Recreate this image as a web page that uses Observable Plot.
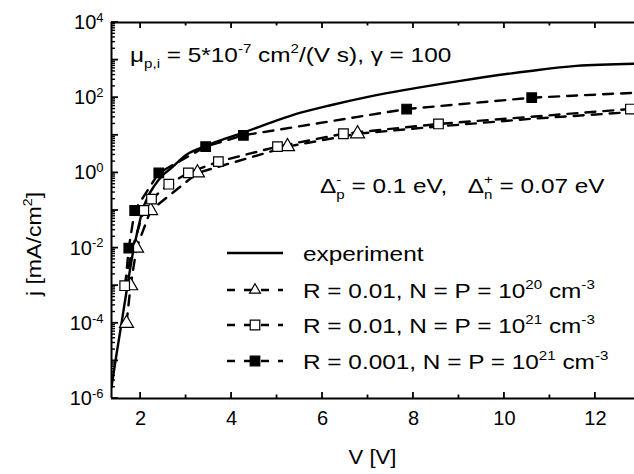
<!DOCTYPE html>
<html><head><meta charset="utf-8">
<script src="https://cdn.jsdelivr.net/npm/d3@7"></script>
<script src="https://cdn.jsdelivr.net/npm/@observablehq/plot@0.6"></script>
<style>
body{margin:0;background:#fff;}
svg{font-family:"Liberation Sans",Arial,sans-serif;}
</style>
</head><body><div id="chart"></div>
<script>
// ---- data ----
const expV = [1.36, 1.47, 1.58, 1.71, 1.85, 1.95, 2.04, 2.15, 2.3, 2.5, 2.66, 3.0, 3.43, 4.26, 5.52, 6.2, 7.0, 9.03, 10.57, 11.58, 12.86];
const expJ = [2e-6, 1.5e-5, 1e-4, 1e-3, 1e-2, 3.5e-2, 0.1, 0.22, 0.45, 0.9, 1.3, 3.0, 5.2, 11.8, 40, 64, 105, 280, 515, 700, 800];

const triLineV = [1.69, 1.78, 1.91, 2.22, 3.25, 5.23, 6.77, 8.5, 10.5, 12.86];
const triLineJ = [1e-4, 1e-3, 1e-2, 0.1, 1, 5, 11, 17, 27, 42];
const triMarkV = [1.69, 1.78, 1.91, 2.22, 3.25, 5.23, 6.77];
const triMarkJ = [1e-4, 1e-3, 1e-2, 0.1, 1, 5, 11];

const sqLineV = [1.65, 1.82, 2.07, 2.24, 2.62, 3.05, 3.71, 5.01, 6.46, 8.55, 12.77, 12.86];
const sqLineJ = [1e-3, 1e-2, 0.1, 0.2, 0.5, 1, 2, 5, 11, 20, 50, 51];
const sqMarkV = [1.65, 2.07, 2.24, 2.62, 3.05, 3.71, 5.01, 6.46, 8.55, 12.77];
const sqMarkJ = [1e-3, 0.1, 0.2, 0.5, 1, 2, 5, 11, 20, 50];

const fillLineV = [1.66, 1.74, 1.87, 2.4, 3.43, 4.26, 7.85, 10.6, 12.86];
const fillLineJ = [1e-3, 1e-2, 0.1, 1, 5, 10, 50, 100, 135];
const fillMarkV = [1.74, 1.87, 2.4, 3.43, 4.26, 7.85, 10.6];
const fillMarkJ = [0.01, 0.1, 1, 5, 10, 50, 100];

const xDomain = [1.36, 12.86];
const yDomain = [1e-6, 1e4];
const xLabelTicks = [2, 4, 6, 8, 10, 12];
const xMinorTicks = [3, 5, 7, 9, 11];
const yLabelExps = [-6, -4, -2, 0, 2, 4];
const yMajorExps = [-6, -5, -4, -3, -2, -1, 0, 1, 2, 3, 4];

const legendLabels = [
  ["experiment"],
  ["R = 0.01, N = P = 10", {sup: "20"}, " cm", {sup: "-3"}],
  ["R = 0.01, N = P = 10", {sup: "21"}, " cm", {sup: "-3"}],
  ["R = 0.001, N = P = 10", {sup: "21"}, " cm", {sup: "-3"}]
];
const legendSymbols = [null, "triangle", "square", "square"];
const legendFills = [null, "#fff", "#fff", "#000"];
const note1 = ["μ", {sub: "p,i"}, " = 5*10", {sup: "-7"}, " cm", {sup: "2"}, "/(V s), γ = 100"];
const note2 = ["Δ", {sup: "-", sub: "p"}, " = 0.1 eV,   Δ", {sup: "+", sub: "n"}, " = 0.07 eV"];
const xTitle = ["V [V]"];
const yTitle = ["j [mA/cm", {sup: "2"}, "]"];

// ---- helpers ----
const rows = (V, J) => V.map((v, i) => ({V: v, j: J[i]}));
const yMajor = yMajorExps.map(e => 10 ** e);
const yMinor = yMajorExps.slice(0, -1).flatMap(e => d3.range(2, 10).map(k => k * 10 ** e));
const yLabelTicks = yLabelExps.map(e => 10 ** e);
const dash = "10,8";

const chart = Plot.plot({
  width: 634, height: 474,
  marginLeft: 111, marginRight: 0, marginTop: 22, marginBottom: 76,
  style: {fontFamily: '"Liberation Sans",Arial,sans-serif', fontSize: "20px", color: "#000", background: "#fff"},
  x: {domain: xDomain, label: null},
  y: {type: "log", domain: yDomain, label: null},
  marks: [
    Plot.axisX(xLabelTicks, {anchor: "bottom", tickSize: 0, tickPadding: 12, fontSize: 20}),
    Plot.axisY(yLabelTicks, {anchor: "left", tickSize: 0, tickPadding: 8, fontSize: 20, tickFormat: d => "10|" + Math.round(Math.log10(d))}),
    Plot.line(rows(expV, expJ), {x: "V", y: "j", stroke: "#000", strokeWidth: 2.4, curve: "monotone-x", clip: true}),
    Plot.line(rows(triLineV, triLineJ), {x: "V", y: "j", stroke: "#000", strokeWidth: 2.4, strokeDasharray: dash, clip: true}),
    Plot.line(rows(sqLineV, sqLineJ), {x: "V", y: "j", stroke: "#000", strokeWidth: 2.4, strokeDasharray: dash, clip: true}),
    Plot.line(rows(fillLineV, fillLineJ), {x: "V", y: "j", stroke: "#000", strokeWidth: 2.4, strokeDasharray: dash, clip: true}),
    Plot.dot(rows(triMarkV, triMarkJ), {x: "V", y: "j", symbol: "triangle", r: 5.2, fill: "#fff", stroke: "#000", strokeWidth: 1.2}),
    Plot.dot(rows(sqMarkV, sqMarkJ), {x: "V", y: "j", symbol: "square", r: 5.4, fill: "#fff", stroke: "#000", strokeWidth: 1.2}),
    Plot.dot(rows(fillMarkV, fillMarkJ), {x: "V", y: "j", symbol: "square", r: 5.4, fill: "#000", stroke: "#000", strokeWidth: 1.2}),
    Plot.ruleY([yDomain[1]], {stroke: "#000", strokeWidth: 2}),
    Plot.ruleY([yDomain[0]], {stroke: "#000", strokeWidth: 2}),
    Plot.ruleX([xDomain[0]], {stroke: "#000", strokeWidth: 2})
  ]
});
document.getElementById("chart").append(chart);

const svg = d3.select(chart);
// superscript tick labels
svg.selectAll('g[aria-label="y-axis tick label"] text').each(function() {
  const parts = this.textContent.split("|");
  if (parts.length < 2) return;
  const t = d3.select(this).text("");
  t.append("tspan").text(parts[0]);
  t.append("tspan").attr("dy", "-0.55em").attr("font-size", "0.65em").text(parts[1]);
});

function rich(parent, x, y, segs, fs, anchor = "start", hs = 1) {
  const g = parent.append("g").attr("text-anchor", "start");
  let cx = 0;
  const add = (txt, yy, size) => {
    const t = g.append("text").attr("x", cx).attr("y", yy).attr("font-size", size)
      .attr("text-anchor", "start").attr("fill", "#000").style("white-space", "pre").text(txt);
    return t.node().getComputedTextLength();
  };
  for (const s of segs) {
    if (typeof s === "string") cx += add(s, 0, fs);
    else {
      let w = 0;
      if (s.sup != null) w = Math.max(w, add(s.sup, -0.42 * fs, 0.62 * fs));
      if (s.sub != null) w = Math.max(w, add(s.sub, 0.3 * fs, 0.62 * fs));
      cx += w;
    }
  }
  const W = cx * hs;
  const dx = anchor === "middle" ? -W / 2 : anchor === "end" ? -W : 0;
  g.attr("transform", `translate(${x + dx},${y}) scale(${hs},1)`);
  return g;
}

const sx = chart.scale("x"), sy = chart.scale("y");
const frameL = sx.apply(xDomain[0]), frameR = sx.apply(xDomain[1]);
const frameT = sy.apply(yDomain[1]), frameB = sy.apply(yDomain[0]);

// inward ticks
const ticks = svg.append("g").attr("stroke", "#000").attr("stroke-width", 1.8);
const tickLine = (x1, y1, x2, y2) => ticks.append("line").attr("x1", x1).attr("y1", y1).attr("x2", x2).attr("y2", y2);
xLabelTicks.forEach(v => { const x = sx.apply(v); tickLine(x, frameB, x, frameB - 6); tickLine(x, frameT, x, frameT + 6); });
xMinorTicks.forEach(v => { const x = sx.apply(v); tickLine(x, frameB, x, frameB - 3.5); tickLine(x, frameT, x, frameT + 3.5); });
yMajor.forEach(v => { const y = sy.apply(v); tickLine(frameL, y, frameL + 7, y); });
yMinor.forEach(v => { const y = sy.apply(v); tickLine(frameL, y, frameL + 4, y).attr("stroke-width", 1.4); });

const FS = 21, HS = 1.16;
rich(svg, 130, 62, note1, FS, "start", HS);
rich(svg, 320, 193, note2, FS, "start", HS);
rich(svg, (frameL + frameR) / 2, 464, xTitle, 21, "middle", 1.05);
const yg = svg.append("g").attr("transform", `translate(41,244) rotate(-90)`);
rich(yg, 0, 0, yTitle, 21, "middle", 1.1);

// legend
const legend = svg.append("g");
const rowY = [253, 290, 325, 361];
legendLabels.forEach((lab, i) => {
  const cy = rowY[i];
  const ln = legend.append("line").attr("x1", 227).attr("x2", 283).attr("y1", cy).attr("y2", cy)
    .attr("stroke", "#000").attr("stroke-width", 2.4);
  if (legendSymbols[i]) {
    ln.attr("stroke-dasharray", "8,9");
    const sym = legendSymbols[i] === "triangle" ? d3.symbolTriangle2 : d3.symbolSquare;
    legend.append("path").attr("d", d3.symbol(sym, Math.PI * (legendSymbols[i] === "triangle" ? 27 : 29.16))())
      .attr("transform", `translate(255,${cy})`).attr("fill", legendFills[i]).attr("stroke", "#000").attr("stroke-width", 1.2);
  }
  rich(legend, 303, cy + 7.5, lab, FS, "start", HS);
});
</script>
</body></html>
